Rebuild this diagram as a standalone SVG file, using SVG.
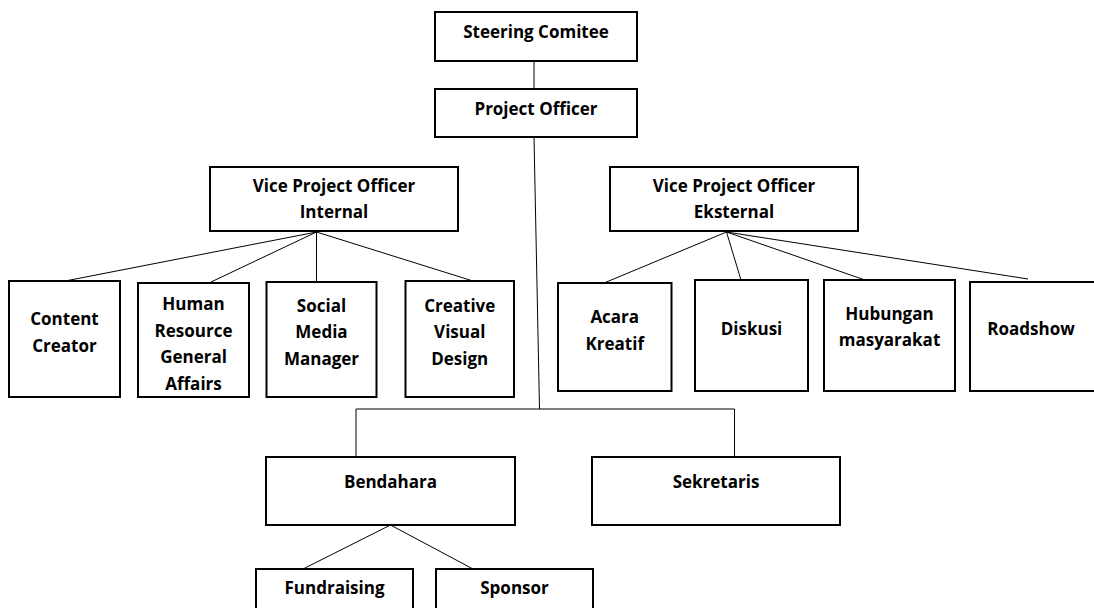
<svg xmlns="http://www.w3.org/2000/svg" width="1094" height="608" viewBox="0 0 1094 608">
  <style>
    .box { fill: #ffffff; stroke: #000000; stroke-width: 2; }
    .lbl { font-family: "Open Sans", "Liberation Sans", sans-serif; font-weight: 700; font-size: 17px; fill: #000000; text-anchor: middle; }
    .link { fill: none; stroke: #000000; stroke-width: 1; }
  </style>
  <rect width="1094" height="608" fill="#ffffff"/>

  <!-- connectors -->
  <g id="connectors">
    <line class="link" x1="534" y1="61" x2="534" y2="89"/>
    <line class="link" x1="534" y1="137" x2="539.5" y2="409" stroke="#444"/>
    <polyline class="link" points="356,457 356,409 734.5,409 734.5,457"/>
    <!-- internal branch -->
    <line class="link" x1="316.5" y1="232" x2="60" y2="282"/>
    <line class="link" x1="316.5" y1="232" x2="211" y2="282"/>
    <line class="link" x1="316.5" y1="232" x2="316.5" y2="282"/>
    <line class="link" x1="316.5" y1="232" x2="473" y2="281"/>
    <!-- external branch -->
    <line class="link" x1="726.5" y1="232" x2="604" y2="283"/>
    <line class="link" x1="726.5" y1="232" x2="741" y2="280"/>
    <line class="link" x1="726.5" y1="232" x2="865" y2="280"/>
    <line class="link" x1="726.5" y1="232" x2="1028" y2="279"/>
    <!-- finance branch -->
    <line class="link" x1="390.5" y1="525" x2="303" y2="569"/>
    <line class="link" x1="390.5" y1="525" x2="473" y2="569"/>
  </g>

  <g id="steering-comitee">
    <rect class="box" x="435" y="12" width="202" height="49"/>
    <text class="lbl" x="536" y="38">Steering Comitee</text>
  </g>
  <g id="project-officer">
    <rect class="box" x="435" y="89" width="202" height="48"/>
    <text class="lbl" x="536" y="115">Project Officer</text>
  </g>

  <g id="vpo-internal">
    <rect class="box" x="210" y="167" width="248" height="64"/>
    <text class="lbl" x="334" y="192">Vice Project Officer</text>
    <text class="lbl" x="334" y="218">Internal</text>
  </g>
  <g id="vpo-eksternal">
    <rect class="box" x="610" y="167" width="248" height="64"/>
    <text class="lbl" x="734" y="192">Vice Project Officer</text>
    <text class="lbl" x="734" y="218">Eksternal</text>
  </g>

  <g id="content-creator">
    <rect class="box" x="9" y="281" width="111" height="116"/>
    <text class="lbl" x="64.5" y="325">Content</text>
    <text class="lbl" x="64.5" y="351.5">Creator</text>
  </g>
  <g id="human-resource">
    <rect class="box" x="138" y="283" width="111" height="114"/>
    <text class="lbl" x="193.5" y="310">Human</text>
    <text class="lbl" x="193.5" y="336.5">Resource</text>
    <text class="lbl" x="193.5" y="363">General</text>
    <text class="lbl" x="193.5" y="389.5">Affairs</text>
  </g>
  <g id="social-media-manager">
    <rect class="box" x="266.5" y="282" width="110" height="115"/>
    <text class="lbl" x="321.5" y="311.5">Social</text>
    <text class="lbl" x="321.5" y="338">Media</text>
    <text class="lbl" x="321.5" y="364.5">Manager</text>
  </g>
  <g id="creative-visual-design">
    <rect class="box" x="405.5" y="281" width="108.5" height="116"/>
    <text class="lbl" x="459.75" y="311.5">Creative</text>
    <text class="lbl" x="459.75" y="338">Visual</text>
    <text class="lbl" x="459.75" y="364.5">Design</text>
  </g>

  <g id="acara-kreatif">
    <rect class="box" x="558" y="283" width="113.5" height="108"/>
    <text class="lbl" x="614.75" y="323">Acara</text>
    <text class="lbl" x="614.75" y="349.5">Kreatif</text>
  </g>
  <g id="diskusi">
    <rect class="box" x="695" y="280" width="113" height="111"/>
    <text class="lbl" x="751.5" y="335">Diskusi</text>
  </g>
  <g id="hubungan-masyarakat">
    <rect class="box" x="824" y="280" width="131" height="111"/>
    <text class="lbl" x="889.5" y="319.5">Hubungan</text>
    <text class="lbl" x="889.5" y="346">masyarakat</text>
  </g>
  <g id="roadshow">
    <rect class="box" x="970" y="282" width="126" height="109"/>
    <text class="lbl" x="1031" y="335">Roadshow</text>
  </g>

  <g id="bendahara">
    <rect class="box" x="266" y="457" width="249" height="68"/>
    <text class="lbl" x="390.5" y="488">Bendahara</text>
  </g>
  <g id="sekretaris">
    <rect class="box" x="592" y="457" width="248" height="68"/>
    <text class="lbl" x="716" y="488">Sekretaris</text>
  </g>

  <g id="fundraising">
    <rect class="box" x="256" y="569" width="157" height="50"/>
    <text class="lbl" x="334.5" y="594">Fundraising</text>
  </g>
  <g id="sponsor">
    <rect class="box" x="436" y="569" width="157" height="50"/>
    <text class="lbl" x="514.5" y="594">Sponsor</text>
  </g>
</svg>
